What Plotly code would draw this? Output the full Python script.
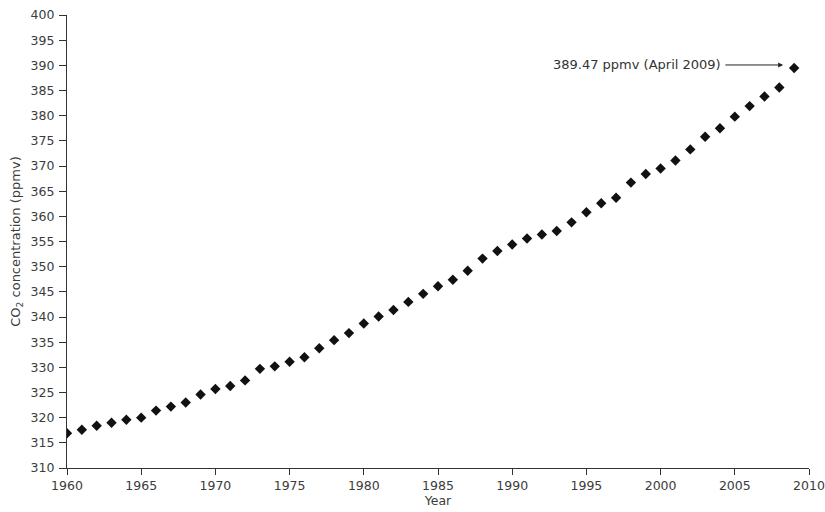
import plotly.graph_objects as go

# Annual mean atmospheric CO2 (ppmv), 1960-2008, plus April 2009 reading
years = list(range(1960, 2010))
co2 = [316.9, 317.6, 318.4, 319.0, 319.6, 320.0, 321.4, 322.2, 323.0, 324.6,
       325.7, 326.3, 327.4, 329.7, 330.2, 331.1, 332.0, 333.8, 335.4, 336.8,
       338.7, 340.1, 341.4, 343.0, 344.6, 346.1, 347.4, 349.2, 351.6, 353.1,
       354.4, 355.6, 356.4, 357.1, 358.8, 360.8, 362.6, 363.7, 366.7, 368.4,
       369.5, 371.1, 373.3, 375.8, 377.5, 379.8, 381.9, 383.8, 385.6, 389.47]

x_ticks = list(range(1960, 2011, 5))
y_ticks = list(range(310, 401, 5))

latest_year = years[-1]
latest_value = co2[-1]
latest_label = f"{latest_value:.2f} ppmv (April {latest_year})"

FONT = "DejaVu Sans"
LABEL_GREY = "#3c3c3c"
AXIS_GREY = "#333333"

fig = go.Figure()
fig.add_trace(go.Scatter(
    x=years, y=co2, mode="markers",
    marker=dict(symbol="diamond", size=8, color="#111111", line=dict(width=0)),
    hoverinfo="x+y", showlegend=False,
))

# label for the latest reading, with an arrow running from the text to the point
fig.add_annotation(
    x=latest_year, y=latest_value + 0.6, xref="x", yref="y",
    ax=1998.4, ay=latest_value + 0.6, axref="x", ayref="y",
    text=latest_label, showarrow=True, arrowhead=2, arrowsize=1,
    arrowwidth=1, arrowcolor="#222222", standoff=11, borderpad=4,
    font=dict(family=FONT, size=13, color="#333333"),
)

axis_common = dict(
    showgrid=False, zeroline=False, showline=True, linecolor=AXIS_GREY,
    linewidth=1.2, ticks="outside", tickcolor=AXIS_GREY, tickwidth=1.2,
    tickfont=dict(family=FONT, size=12.5, color=LABEL_GREY),
    automargin=False,
)

fig.update_xaxes(
    range=[1960, 2010], tickvals=x_ticks, ticklen=6,
    title=dict(text="Year", standoff=2,
               font=dict(family=FONT, size=12.5, color=LABEL_GREY)),
    **axis_common,
)
fig.update_yaxes(
    range=[310, 400], tickvals=y_ticks, ticklen=7, ticklabelstandoff=2,
    title=dict(text="CO<sub>2</sub> concentration (ppmv)", standoff=6,
               font=dict(family=FONT, size=13, color=LABEL_GREY)),
    **axis_common,
)

fig.update_layout(
    width=825, height=512,
    margin=dict(l=67, r=16, t=15, b=44),
    plot_bgcolor="white", paper_bgcolor="white",
    font=dict(family=FONT),
)

fig.write_html("out.html")
